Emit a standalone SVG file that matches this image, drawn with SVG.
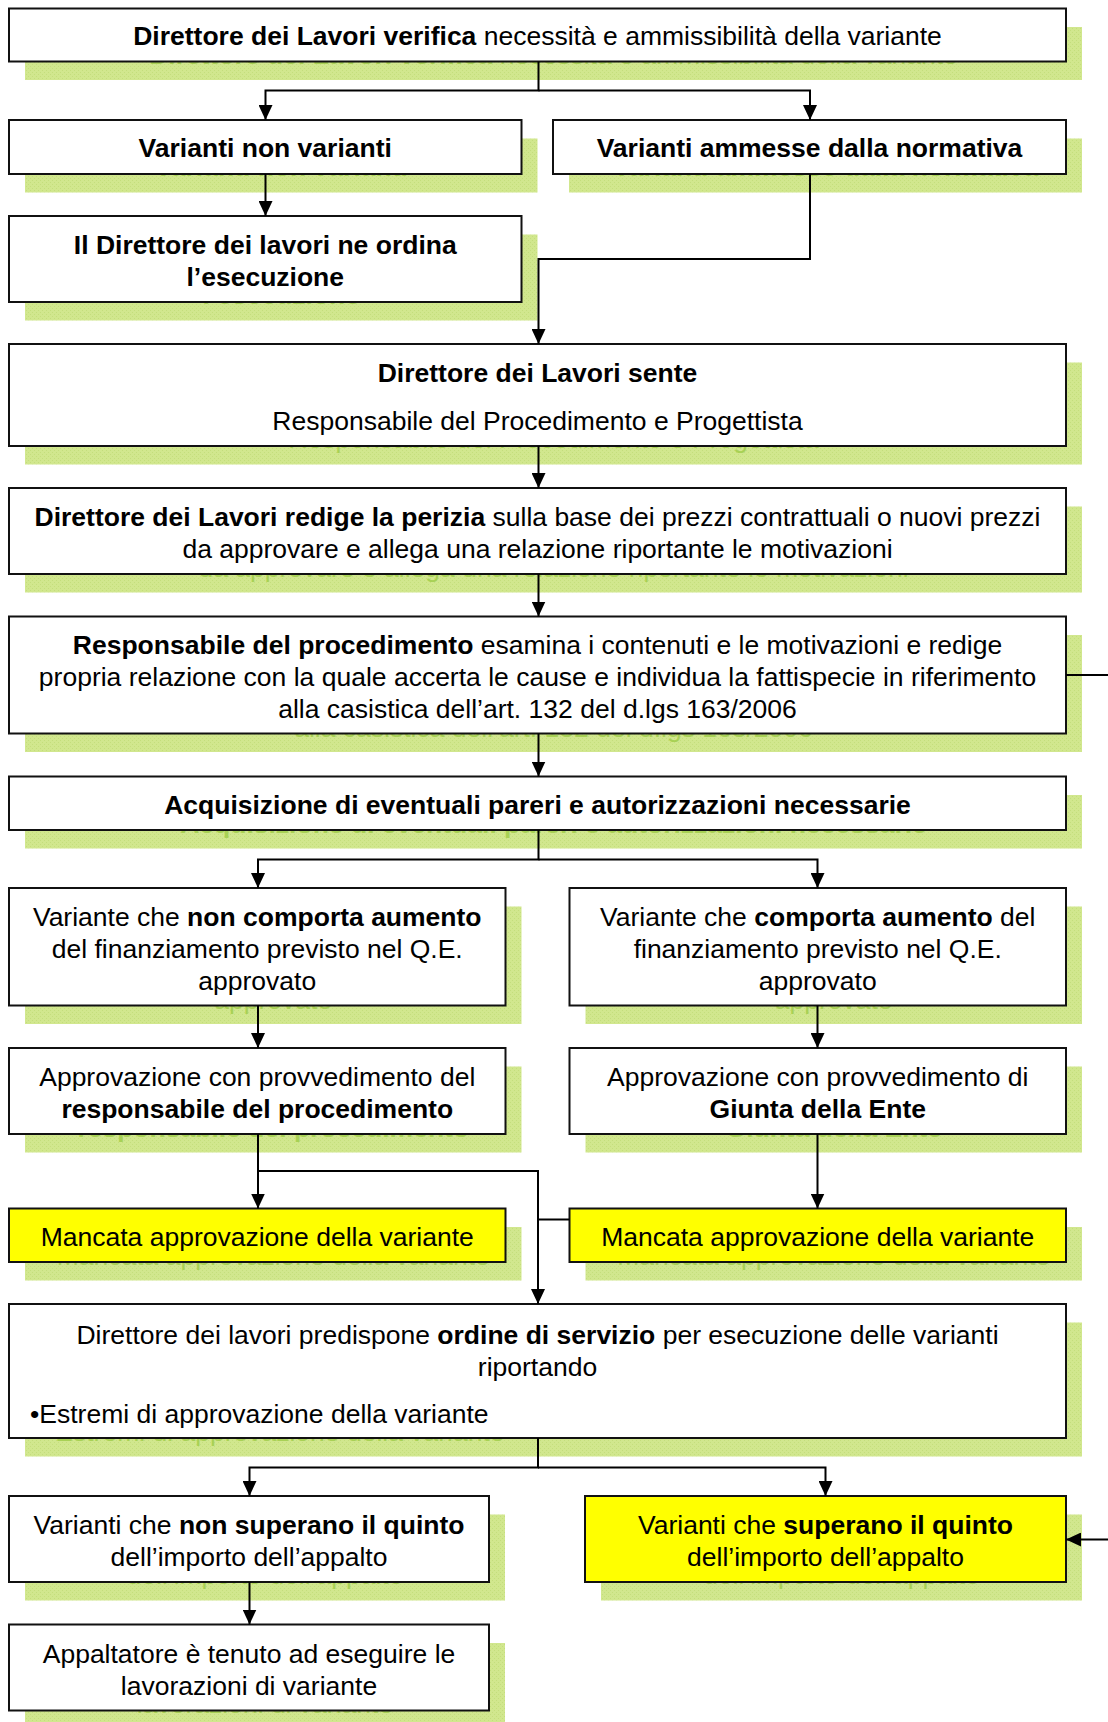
<svg xmlns="http://www.w3.org/2000/svg" xmlns:xlink="http://www.w3.org/1999/xlink" width="1108" height="1722" viewBox="0 0 1108 1722">
<style>
.bx{fill:#fff;stroke:#111;stroke-width:2}
.yl{fill:#ffff00}
.sh{fill:url(#hatch)}
.t{font-family:"Liberation Sans",Arial,sans-serif;font-size:26.5px;text-anchor:middle}
.tl{text-anchor:start}
.b{font-weight:bold}
.gh{fill:#a8d155}
.c{fill:none;stroke:#000;stroke-width:2}
.a{marker-end:url(#arr)}
</style>
<defs>
<pattern id="hatch" width="4" height="4" patternUnits="userSpaceOnUse">
<rect width="4" height="4" fill="#d1e78e"/>
<rect width="1" height="1" fill="#c4de7c"/>
<rect x="2" y="2" width="1" height="1" fill="#c4de7c"/>
</pattern>
<marker id="arr" markerUnits="userSpaceOnUse" markerWidth="16" markerHeight="14" refX="15" refY="7" orient="auto">
<path d="M0,0 L15,7 L0,14 Z" fill="#000"/>
</marker>
</defs>
<rect width="1108" height="1722" fill="#fff"/>

<g id="n1">
<rect class="sh" x="25" y="27" width="1057" height="53"/>
<use xlink:href="#n1t" href="#n1t" class="gh" transform="translate(16 18.5)"/>
<rect class="bx" x="9" y="8.5" width="1057" height="53"/>
<text id="n1t" class="t" x="537.5" y="45"><tspan class="b">Direttore dei Lavori verifica</tspan> necessità e ammissibilità della variante</text>
</g>

<g id="n2">
<rect class="sh" x="25" y="138.5" width="512.5" height="54"/>
<use xlink:href="#n2t" href="#n2t" class="gh" transform="translate(16 18.5)"/>
<rect class="bx" x="9" y="120" width="512.5" height="54"/>
<text id="n2t" class="t b" x="265.25" y="157">Varianti non varianti</text>
</g>

<g id="n3">
<rect class="sh" x="569" y="138.5" width="513" height="54"/>
<use xlink:href="#n3t" href="#n3t" class="gh" transform="translate(16 18.5)"/>
<rect class="bx" x="553" y="120" width="513" height="54"/>
<text id="n3t" class="t b" x="809.5" y="157">Varianti ammesse dalla normativa</text>
</g>

<g id="n4">
<rect class="sh" x="25" y="234.5" width="512.5" height="86"/>
<use xlink:href="#n4t" href="#n4t" class="gh" transform="translate(16 18.5)"/>
<rect class="bx" x="9" y="216" width="512.5" height="86"/>
<text id="n4t" class="t b"><tspan x="265.25" y="253.5">Il Direttore dei lavori ne ordina</tspan><tspan x="265.25" y="285.5">l’esecuzione</tspan></text>
</g>

<g id="n5">
<rect class="sh" x="25" y="362.5" width="1057" height="102"/>
<use xlink:href="#n5t" href="#n5t" class="gh" transform="translate(16 18.5)"/>
<rect class="bx" x="9" y="344" width="1057" height="102"/>
<text id="n5t" class="t"><tspan class="b" x="537.5" y="381.5">Direttore dei Lavori sente</tspan><tspan x="537.5" y="429.5">Responsabile del Procedimento e Progettista</tspan></text>
</g>

<g id="n6">
<rect class="sh" x="25" y="506.5" width="1057" height="86"/>
<use xlink:href="#n6t" href="#n6t" class="gh" transform="translate(16 18.5)"/>
<rect class="bx" x="9" y="488" width="1057" height="86"/>
<text id="n6t" class="t"><tspan x="537.5" y="526"><tspan class="b">Direttore dei Lavori redige la perizia</tspan> sulla base dei prezzi contrattuali o nuovi prezzi</tspan><tspan x="537.5" y="558">da approvare e allega una relazione riportante le motivazioni</tspan></text>
</g>

<g id="n7">
<rect class="sh" x="25" y="635" width="1057" height="117"/>
<use xlink:href="#n7t" href="#n7t" class="gh" transform="translate(16 18.5)"/>
<rect class="bx" x="9" y="616.5" width="1057" height="117"/>
<text id="n7t" class="t"><tspan x="537.5" y="654"><tspan class="b">Responsabile del procedimento</tspan> esamina i contenuti e le motivazioni e redige</tspan><tspan x="537.5" y="686">propria relazione con la quale accerta le cause e individua la fattispecie in riferimento</tspan><tspan x="537.5" y="718">alla casistica dell’art. 132 del d.lgs 163/2006</tspan></text>
</g>

<g id="n8">
<rect class="sh" x="25" y="795" width="1057" height="53.5"/>
<use xlink:href="#n8t" href="#n8t" class="gh" transform="translate(16 18.5)"/>
<rect class="bx" x="9" y="776.5" width="1057" height="53.5"/>
<text id="n8t" class="t b" x="537.5" y="814">Acquisizione di eventuali pareri e autorizzazioni necessarie</text>
</g>

<g id="n9">
<rect class="sh" x="25" y="906.5" width="496.5" height="117.5"/>
<use xlink:href="#n9t" href="#n9t" class="gh" transform="translate(16 18.5)"/>
<rect class="bx" x="9" y="888" width="496.5" height="117.5"/>
<text id="n9t" class="t"><tspan x="257.25" y="926">Variante che <tspan class="b">non comporta aumento</tspan></tspan><tspan x="257.25" y="958">del finanziamento previsto nel Q.E.</tspan><tspan x="257.25" y="990">approvato</tspan></text>
</g>

<g id="n10">
<rect class="sh" x="585.5" y="906.5" width="496.5" height="117.5"/>
<use xlink:href="#n10t" href="#n10t" class="gh" transform="translate(16 18.5)"/>
<rect class="bx" x="569.5" y="888" width="496.5" height="117.5"/>
<text id="n10t" class="t"><tspan x="817.75" y="926">Variante che <tspan class="b">comporta aumento</tspan> del</tspan><tspan x="817.75" y="958">finanziamento previsto nel Q.E.</tspan><tspan x="817.75" y="990">approvato</tspan></text>
</g>

<g id="n11">
<rect class="sh" x="25" y="1066.5" width="496.5" height="86"/>
<use xlink:href="#n11t" href="#n11t" class="gh" transform="translate(16 18.5)"/>
<rect class="bx" x="9" y="1048" width="496.5" height="86"/>
<text id="n11t" class="t"><tspan x="257.25" y="1086">Approvazione con provvedimento del</tspan><tspan class="b" x="257.25" y="1118">responsabile del procedimento</tspan></text>
</g>

<g id="n12">
<rect class="sh" x="585.5" y="1066.5" width="496.5" height="86"/>
<use xlink:href="#n12t" href="#n12t" class="gh" transform="translate(16 18.5)"/>
<rect class="bx" x="569.5" y="1048" width="496.5" height="86"/>
<text id="n12t" class="t"><tspan x="817.75" y="1086">Approvazione con provvedimento di</tspan><tspan class="b" x="817.75" y="1118">Giunta della Ente</tspan></text>
</g>

<g id="n13">
<rect class="sh" x="25" y="1227" width="496.5" height="53.5"/>
<use xlink:href="#n13t" href="#n13t" class="gh" transform="translate(16 18.5)"/>
<rect class="bx yl" x="9" y="1208.5" width="496.5" height="53.5"/>
<text id="n13t" class="t" x="257.25" y="1246">Mancata approvazione della variante</text>
</g>

<g id="n14">
<rect class="sh" x="585.5" y="1227" width="496.5" height="53.5"/>
<use xlink:href="#n14t" href="#n14t" class="gh" transform="translate(16 18.5)"/>
<rect class="bx yl" x="569.5" y="1208.5" width="496.5" height="53.5"/>
<text id="n14t" class="t" x="817.75" y="1246">Mancata approvazione della variante</text>
</g>

<g id="n15">
<rect class="sh" x="25" y="1322.5" width="1057" height="134"/>
<use xlink:href="#n15t" href="#n15t" class="gh" transform="translate(16 18.5)"/>
<rect class="bx" x="9" y="1304" width="1057" height="134"/>
<g id="n15t">
<text class="t"><tspan x="537.5" y="1343.5">Direttore dei lavori predispone <tspan class="b">ordine di servizio</tspan> per esecuzione delle varianti</tspan><tspan x="537.5" y="1376">riportando</tspan></text>
<text class="t tl" x="30" y="1422.5">•Estremi di approvazione della variante</text>
</g>
</g>

<g id="n16">
<rect class="sh" x="25" y="1514.5" width="480" height="86"/>
<use xlink:href="#n16t" href="#n16t" class="gh" transform="translate(16 18.5)"/>
<rect class="bx" x="9" y="1496" width="480" height="86"/>
<text id="n16t" class="t"><tspan x="249" y="1534">Varianti che <tspan class="b">non superano il quinto</tspan></tspan><tspan x="249" y="1565.5">dell’importo dell’appalto</tspan></text>
</g>

<g id="n17">
<rect class="sh" x="601" y="1514.5" width="481" height="86"/>
<use xlink:href="#n17t" href="#n17t" class="gh" transform="translate(16 18.5)"/>
<rect class="bx yl" x="585" y="1496" width="481" height="86"/>
<text id="n17t" class="t"><tspan x="825.5" y="1534">Varianti che <tspan class="b">superano il quinto</tspan></tspan><tspan x="825.5" y="1565.5">dell’importo dell’appalto</tspan></text>
</g>

<g id="n18">
<rect class="sh" x="25" y="1643" width="480" height="86"/>
<use xlink:href="#n18t" href="#n18t" class="gh" transform="translate(16 18.5)"/>
<rect class="bx" x="9" y="1624.5" width="480" height="86"/>
<text id="n18t" class="t"><tspan x="249" y="1662.5">Appaltatore è tenuto ad eseguire le</tspan><tspan x="249" y="1694.5">lavorazioni di variante</tspan></text>
</g>

<g id="connectors">
<path class="c a" d="M538.5 61.5 V90.5 H265.5 V120"/>
<path class="c a" d="M538.5 90.5 H810 V120"/>
<path class="c a" d="M265.5 174 V216"/>
<path class="c a" d="M810 174 V259 H538.5 V344"/>
<path class="c a" d="M538.5 446 V488"/>
<path class="c a" d="M538.5 574 V616.5"/>
<path class="c a" d="M538.5 733.5 V776.5"/>
<path class="c" d="M1066 675 H1108"/>
<path class="c a" d="M538.5 830 V859.5 H258 V888"/>
<path class="c a" d="M538.5 859.5 H817.5 V888"/>
<path class="c a" d="M258 1005.5 V1048"/>
<path class="c a" d="M817.5 1005.5 V1048"/>
<path class="c a" d="M258 1134 V1208.5"/>
<path class="c a" d="M258 1171 H538 V1304"/>
<path class="c a" d="M817.5 1134 V1208.5"/>
<path class="c" d="M569.5 1219.5 H538"/>
<path class="c a" d="M538 1438 V1467.5 H249.5 V1496"/>
<path class="c a" d="M538 1467.5 H825.5 V1496"/>
<path class="c a" d="M1108 1539.5 H1066"/>
<path class="c a" d="M249.5 1582 V1624.5"/>
</g>
</svg>
